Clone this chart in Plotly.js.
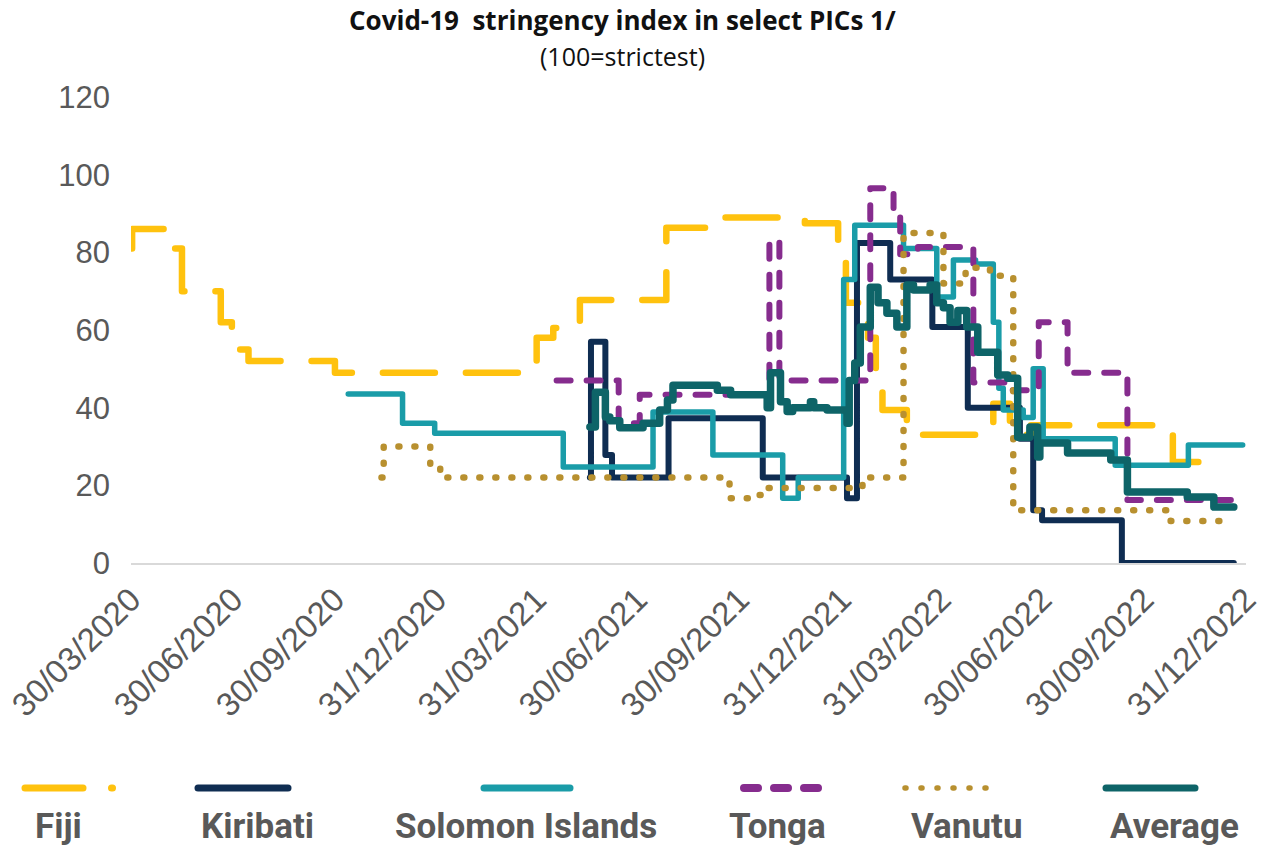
<!DOCTYPE html>
<html>
<head>
<meta charset="utf-8">
<script src="https://cdn.plot.ly/plotly-3.0.1.min.js"></script>
<style>
html,body{margin:0;padding:0;background:#fff;}
#chart{width:1269px;height:851px;}
</style>
</head>
<body>
<div id="chart"></div>
<script>
// ---------------- DATA ----------------
const fijiDates = ['2020-03-30','2020-03-31','2020-05-01','2020-05-15','2020-06-19','2020-06-29','2020-07-14','2020-09-30','2021-03-31','2021-04-15','2021-05-09','2021-07-26','2021-09-05','2021-11-28','2021-12-28','2022-01-04','2022-01-24','2022-01-31','2022-02-06','2022-02-28','2022-05-17','2022-06-01','2022-06-20','2022-10-26','2022-11-26'];
const fijiValues = [81,86,81,70,62,55,52,49,58,60.5,67.7,86.3,89,87.5,79,67,58,44.5,39.4,33,41,33,35.5,26,26];

const kiribatiDates = ['2021-05-18','2021-05-19','2021-06-01','2021-06-07','2021-07-28','2021-10-21','2022-01-05','2022-01-14','2022-02-13','2022-03-23','2022-04-24','2022-06-10','2022-06-22','2022-06-30','2022-09-10','2022-12-20'];
const kiribatiValues = [22,57,27.8,22,37.3,22,16.7,82.4,73,60.8,40,32,13.6,11,0,0];

const solomonDates = ['2020-10-12','2020-11-30','2020-12-29','2021-04-24','2021-07-14','2021-09-06','2021-11-08','2021-11-22','2022-01-02','2022-01-12','2022-02-25','2022-03-27','2022-04-11','2022-05-01','2022-05-17','2022-05-22','2022-05-26','2022-06-13','2022-06-22','2022-07-01','2022-09-04','2022-11-09','2022-12-28'];
const solomonValues = [43.5,36,33.4,24.7,38.9,27.8,16.7,22,73,87,81,68.5,78,77,62,45,39.4,37.5,50,32,25.2,30.4,30.4];

const tongaDates = ['2021-04-18','2021-06-13','2021-07-02','2021-10-27','2021-11-05','2022-01-26','2022-02-16','2022-02-22','2022-03-10','2022-04-29','2022-05-27','2022-06-27','2022-07-23','2022-09-15','2022-12-19'];
const tongaValues = [47,36,43.3,83,47,96.5,91,79.5,81.4,46.5,44.5,62,49,16.2,16.2];

const vanutuDates = ['2020-11-11','2020-11-13','2020-12-25','2021-01-03','2021-09-14','2021-09-21','2021-10-14','2021-10-26','2022-01-19','2022-02-25','2022-04-02','2022-04-22','2022-05-14','2022-06-04','2022-10-24','2022-12-14'];
const vanutuValues = [22,30,24.5,22,20.6,16.7,17.5,19.3,22,85,72,76,74,13.6,10.8,10.8];

const averageDates = ['2021-05-18','2021-05-23','2021-06-01','2021-06-05','2021-06-14','2021-07-05','2021-07-20','2021-07-27','2021-08-01','2021-09-10','2021-09-22','2021-10-25','2021-10-28','2021-11-06','2021-11-12','2021-11-17','2021-12-03','2021-12-06','2021-12-18','2022-01-05','2022-01-07','2022-01-12','2022-01-17','2022-01-26','2022-02-02','2022-02-10','2022-02-19','2022-02-28','2022-03-06','2022-03-21','2022-03-27','2022-04-02','2022-04-08','2022-04-15','2022-04-23','2022-05-03','2022-05-21','2022-05-30','2022-06-08','2022-06-19','2022-06-26','2022-06-28','2022-07-23','2022-08-31','2022-09-15','2022-11-08','2022-12-02','2022-12-20'];
const averageValues = [35,44,37.6,36.6,34.8,36,39.4,42,45.8,44.5,43.3,40,49,41.5,39,40,41.5,40,39.4,36,47,51.5,60.8,71,67,64.3,60.8,71.6,70.3,71.6,67,65.7,62,65,60.8,54.3,48.4,47.6,32.4,35,27.3,30.9,28.3,26.5,18.3,17,14.4,14.4];

const seriesNames = ['Fiji','Kiribati','Solomon Islands','Tonga','Vanutu','Average'];
const tickDates = ['2020-03-30','2020-06-30','2020-09-30','2020-12-31','2021-03-31','2021-06-30','2021-09-30','2021-12-31','2022-03-31','2022-06-30','2022-09-30','2022-12-31'];
const tickLabels = ['30/03/2020','30/06/2020','30/09/2020','31/12/2020','31/03/2021','30/06/2021','30/09/2021','31/12/2021','31/03/2022','30/06/2022','30/09/2022','31/12/2022'];
const yTicks = [0,20,40,60,80,100,120];
const titleText = 'Covid-19\u00a0 stringency index in select PICs 1/';
const subtitleText = '(100=strictest)';

// ---------------- STYLE ----------------
const W = 1269, H = 851, ML = 131, MR = 23, MT = 97, MB = 288;
const px = x => (x - ML) / (W - ML - MR);
const py = y => (H - MB - y) / (H - MT - MB);

const styles = [
  {color:'#FFC20E', width:6.5, dash:'52px,31px'},
  {color:'#0F2D52', width:6,   dash:'solid'},
  {color:'#1A9CA8', width:5.5, dash:'solid'},
  {color:'#862C8E', width:6,   dash:'14px,16px'},
  {color:'#B8902F', width:6.5, dash:'1px,15px'},
  {color:'#0E6468', width:7.5, dash:'solid'}
];

const seriesData = [
  [fijiDates, fijiValues],
  [kiribatiDates, kiribatiValues],
  [solomonDates, solomonValues],
  [tongaDates, tongaValues],
  [vanutuDates, vanutuValues],
  [averageDates, averageValues]
];

const traces = seriesData.map((d, i) => ({
  type: 'scatter', mode: 'lines', name: seriesNames[i],
  x: d[0], y: d[1],
  line: {shape: 'hv', color: styles[i].color, width: styles[i].width, dash: styles[i].dash},
  hoverinfo: 'x+y+name'
}));

// custom legend (symbol above text)
const legendLayout = [
  {lines:[[25,83]], dot:112, text:58,  dash:'solid', w:7},
  {lines:[[198,288]], text:257, dash:'solid', w:7},
  {lines:[[484,570]], text:526, dash:'solid', w:7},
  {lines:[[744,819]], text:777, dash:'14px,16px', w:8},
  {lines:[[905,988]], text:966, dash:'1px,15px', w:5.5},
  {lines:[[1106,1195]], text:1174, dash:'solid', w:7}
];
const LEG_LINE_Y = 788, LEG_TEXT_Y = 826;
const shapes = [];
const annotations = [];
legendLayout.forEach((g, i) => {
  g.lines.forEach(seg => {
    shapes.push({type:'line', xref:'paper', yref:'paper', x0:px(seg[0]), x1:px(seg[1]), y0:py(LEG_LINE_Y), y1:py(LEG_LINE_Y),
      line:{color:styles[i].color, width:g.w, dash:g.dash}});
  });
  if (g.dot) {
    shapes.push({type:'line', xref:'paper', yref:'paper', x0:px(g.dot-0.5), x1:px(g.dot+0.5), y0:py(LEG_LINE_Y), y1:py(LEG_LINE_Y),
      line:{color:styles[i].color, width:g.w}});
  }
  annotations.push({xref:'paper', yref:'paper', x:px(g.text), y:py(LEG_TEXT_Y), xanchor:'center', yanchor:'middle',
    showarrow:false, text:seriesNames[i],
    font:{family:'Roboto, Arial, sans-serif', size:35, weight:700, color:'#595959'}});
});

// title lines
annotations.push({xref:'paper', yref:'paper', x:px(622), y:py(20), xanchor:'center', yanchor:'middle', showarrow:false,
  text:'<b>' + titleText + '</b>', font:{family:'Open Sans, Roboto, Arial, sans-serif', size:26, color:'#111111'}});
annotations.push({xref:'paper', yref:'paper', x:px(622), y:py(56), xanchor:'center', yanchor:'middle', showarrow:false,
  text:subtitleText, font:{family:'Open Sans, Roboto, Arial, sans-serif', size:25, color:'#111111'}});

const layout = {
  width: W, height: H,
  margin: {l: ML, r: MR, t: MT, b: MB, pad: 0},
  paper_bgcolor: '#ffffff', plot_bgcolor: '#ffffff',
  showlegend: false,
  xaxis: {
    type: 'date', range: ['2020-03-30', '2022-12-31'],
    tickmode: 'array', tickvals: tickDates, ticktext: tickLabels,
    tickangle: -45, ticks: '', showgrid: false, zeroline: false,
    showline: true, linecolor: '#D9D9D9', linewidth: 2,
    tickfont: {family: 'Liberation Sans, Arial, sans-serif', size: 33, color: '#595959'},
    ticklabelstandoff: 2
  },
  yaxis: {
    range: [0, 120], tickmode: 'array', tickvals: yTicks,
    ticks: '', showgrid: false, zeroline: false, showline: false,
    tickfont: {family: 'Liberation Sans, Arial, sans-serif', size: 31, color: '#595959'},
    ticklabelstandoff: 20
  },
  shapes: shapes,
  annotations: annotations
};

function roundCaps() {
  document.querySelectorAll('#chart .scatterlayer path.js-line, #chart .shapelayer path').forEach(p => {
    p.style.strokeLinecap = 'round';
    p.style.strokeLinejoin = 'round';
  });
}

Plotly.newPlot('chart', traces, layout, {displayModeBar: false, staticPlot: true}).then(roundCaps);
</script>
</body>
</html>
